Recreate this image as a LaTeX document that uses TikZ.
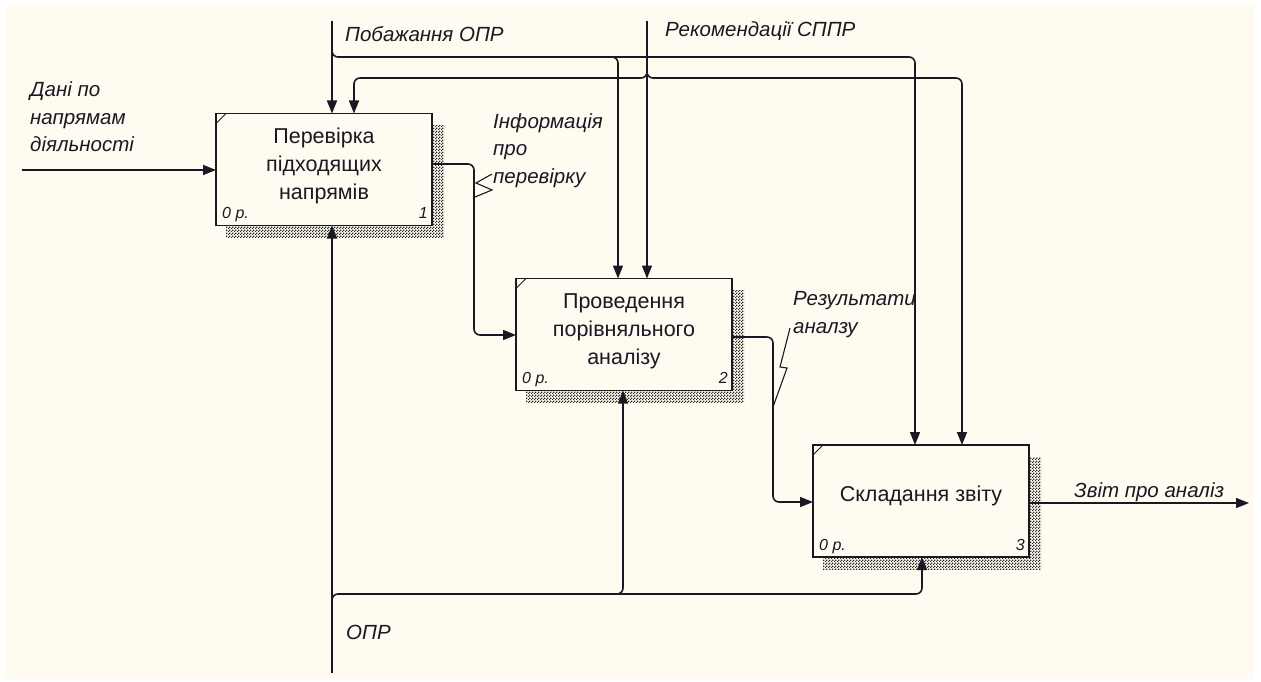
\documentclass[tikz,border=0pt]{standalone}
\usepackage{fontspec}
\setmainfont{Liberation Sans}
\usetikzlibrary{arrows.meta,patterns,calc}
\definecolor{cream}{RGB}{255,251,240}
\definecolor{ink}{RGB}{25,25,35}
\pgfdeclarepatternformonly{idefcheck}{\pgfpointorigin}{\pgfpoint{3pt}{3pt}}{\pgfpoint{3pt}{3pt}}{%
  \pgfpathrectangle{\pgfpointorigin}{\pgfpoint{1.5pt}{1.5pt}}%
  \pgfpathrectangle{\pgfpoint{1.5pt}{1.5pt}}{\pgfpoint{1.5pt}{1.5pt}}%
  \pgfusepath{fill}}
\begin{document}
\begin{tikzpicture}[x=1pt,y=-1pt,
  box/.style={draw=ink,line width=1.6pt,fill=cream,minimum width=216pt,minimum height=112pt,inner sep=0pt,outer sep=0pt},
  boxtext/.style={font=\fontsize{21.5}{28}\selectfont,align=center,text=ink,inner sep=0pt},
  lbl/.style={font=\fontsize{20.5}{27.5}\selectfont\itshape,align=left,anchor=base west,inner sep=0pt,text=ink},
  num/.style={font=\fontsize{16}{17}\selectfont\itshape,inner sep=0pt,text=ink},
  conn/.style={draw=ink,line width=1.6pt,rounded corners=6pt},
  arr/.style={-{Triangle[length=13pt,width=10pt]}},
  squig/.style={draw=ink,line width=1.1pt},
  shadow/.style={pattern=idefcheck,pattern color=black!85},
  tick/.style={draw=ink,line width=1pt}
]
\useasboundingbox (0,0) rectangle (1261,682);
\fill[white] (0,0) rectangle (1261,682);
\fill[cream] (5,5) rectangle (1254,679);

% boxes
\node[box] (b1) at (324,169.5) {};
\node[box] (b2) at (624,334.5) {};
\node[box] (b3) at (921,501) {};

\foreach \b in {b1,b2,b3} {
  \fill[shadow] ($(\b.north east)+(1,12)$) rectangle ($(\b.south east)+(12,12)$);
  \fill[shadow] ($(\b.south west)+(10,1)$) rectangle ($(\b.south east)+(1,12)$);
  \draw[tick] ($(\b.north west)+(0,10)$) -- ($(\b.north west)+(10,0)$);
  \node[num,anchor=base west] at ($(\b.south west)+(6,-7)$) {0 р.};
}
\node[num,anchor=base east] at ($(b1.south east)+(-4,-7)$) {1};
\node[num,anchor=base east] at ($(b2.south east)+(-4,-7)$) {2};
\node[num,anchor=base east] at ($(b3.south east)+(-4,-7)$) {3};

\node[boxtext] at ($(b1.center)+(0,-4)$) {Перевірка\\підходящих\\напрямів};
\node[boxtext] at ($(b2.center)+(0,-3)$) {Проведення\\порівняльного\\аналізу};
\node[boxtext] at ($(b3.center)+(0,-5)$) {Складання звіту};

% coordinates
\coordinate (in) at (22,170);
\coordinate (pw) at (332,21);
\coordinate (pj) at (332,57);
\coordinate (p2) at (618,57);
\coordinate (p3) at (915,57);
\coordinate (rc) at (647,21);
\coordinate (rj) at (647,78);
\coordinate (r1) at (354,78);
\coordinate (r3) at (962,78);
\coordinate (mo) at (332,673);
\coordinate (mj) at (332,594);
\coordinate (m2) at (623,594);
\coordinate (m3) at (922,594);
\coordinate (o1) at (474,164);
\coordinate (o1b) at (474,335);
\coordinate (o2) at (773,337);
\coordinate (o2b) at (773,502);
\coordinate (out) at (1249,503);

% input
\draw[conn,arr] (in) -- (in -| b1.west);
% controls
\draw[conn,arr] (pw) -- (pw |- b1.north);
\draw[conn,arr] ($(pj)+(0,-8)$) -- (pj) -- (p3) -- (p3 |- b3.north);
\draw[conn,arr] ($(p2)+(-8,0)$) -- (p2) -- (p2 |- b2.north);
\draw[conn,arr] (rc) -- (rc |- b2.north);
\draw[conn,arr] ($(rj)+(0,-8)$) -- (rj) -- (r1) -- (r1 |- b1.north);
\draw[conn,arr] ($(rj)+(0,-8)$) -- (rj) -- (r3) -- (r3 |- b3.north);
% mechanisms
\draw[conn,arr] (mo) -- (mo |- b1.south);
\draw[conn,arr] ($(mj)+(0,8)$) -- (mj) -- (m3) -- (m3 |- b3.south);
\draw[conn,arr] ($(m2)+(-8,0)$) -- (m2) -- (m2 |- b2.south);
% outputs
\draw[conn,arr] (b1.east |- o1) -- (o1) -- (o1b) -- (o1b -| b2.west);
\draw[conn,arr] (b2.east |- o2) -- (o2) -- (o2b) -- (o2b -| b3.west);
\draw[conn,arr] (b3.east |- out) -- (out);

% squiggles
\draw[squig] (492,174) -- (476,183) -- (492,190) -- (475,197);
\draw[squig] (790,328) -- (780,367) -- (787,368) -- (773,407);

% labels (base = last line)
\node[lbl] at (345,42) {Побажання ОПР};
\node[lbl] at (665,37) {Рекомендації СППР};
\node[lbl] at (30,152) {Дані по\\напрямам\\діяльності};
\node[lbl] at (493,183) {Інформація\\про\\перевірку};
\node[lbl] at (793,333) {Результати\\аналзу};
\node[lbl] at (1074,497) {Звіт про аналіз};
\node[lbl] at (346,639) {ОПР};
\end{tikzpicture}
\end{document}
